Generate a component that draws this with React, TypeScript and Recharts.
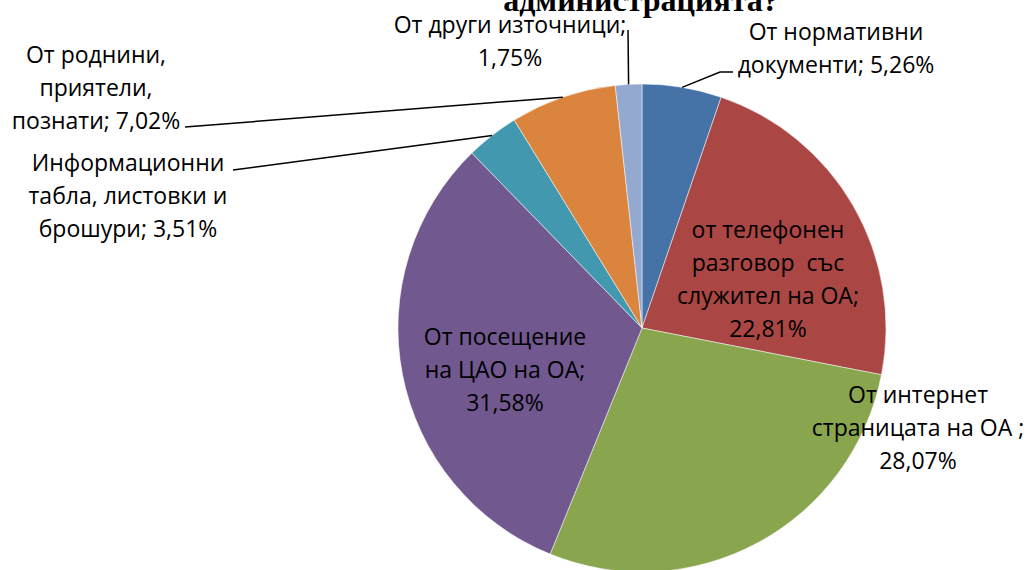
import { PieChart, Pie, Cell } from "recharts";

// slice names (text), values in % and fill colours, clockwise from 12 o'clock
const categories = [
  "От нормативни\nдокументи",
  "от телефонен\nразговор  със\nслужител на ОА",
  "От интернет\nстраницата на ОА ",
  "От посещение\nна ЦАО на ОА",
  "Информационни\nтабла, листовки и\nброшури",
  "От роднини,\nприятели,\nпознати",
  "От други източници",
];
const values = [5.26, 22.81, 28.07, 31.58, 3.51, 7.02, 1.75];
// whether the percentage goes on its own line
const valueOnNewLine = [false, true, true, true, false, false, true];
const colors = ["#4572A7", "#AA4643", "#89A54E", "#71588F", "#4198AF", "#DB843D", "#93A9CF"];

const data = categories.map((name, i) => ({ name, value: values[i] }));

const CX = 642;
const CY = 328;
const R = 244;
const FONT = "'Open Sans', 'Noto Sans', sans-serif";
const FS = 23;
const LH = 33;

// label anchors relative to pie centre (first line baseline), optional leader end
const labelLayout = [
  { dx: 194, dy: -288, leader: [[78, -256], [91, -256]] },
  { dx: 126, dy: -90 },
  { dx: 276, dy: 75 },
  { dx: -137, dy: 17 },
  { dx: -514, dy: -157, leader: [[-409, -158]] },
  { dx: -546, dy: -265, leader: [[-457, -201]] },
  { dx: -132, dy: -295, leader: [[-14, -298]] },
];

const fmt = (v: number) => v.toFixed(2).replace(".", ",") + "%";

const renderLabel = (props: any) => {
  const { cx, cy, midAngle, outerRadius, index } = props;
  const lay = labelLayout[index];
  const lines = categories[index].split("\n");
  const pct = fmt(values[index]);
  if (valueOnNewLine[index]) {
    lines[lines.length - 1] += ";";
    lines.push(pct);
  } else {
    lines[lines.length - 1] += "; " + pct;
  }
  const rad = Math.PI / 180;
  const ex = cx + outerRadius * Math.cos(-midAngle * rad);
  const ey = cy + outerRadius * Math.sin(-midAngle * rad);
  const x = cx + lay.dx;
  const y = cy + lay.dy;
  const pts = lay.leader
    ? [[ex, ey], ...lay.leader.map(([a, b]) => [cx + a, cy + b])]
    : null;
  return (
    <g key={`lbl-${index}`}>
      {pts && (
        <polyline
          points={pts.map((p) => p.join(",")).join(" ")}
          fill="none"
          stroke="#000"
          strokeWidth={1.5}
        />
      )}
      <text x={x} y={y} textAnchor="middle" fill="#000" fontFamily={FONT} fontSize={FS}>
        {lines.map((l, i) => (
          <tspan key={i} x={x} dy={i === 0 ? 0 : LH} style={{ whiteSpace: "pre" }}>
            {l}
          </tspan>
        ))}
      </text>
    </g>
  );
};

export default function App() {
  return (
    <div style={{ position: "absolute", left: 0, top: 0, width: 1029, height: 570, overflow: "hidden", background: "#fff" }}>
      <div
        style={{
          position: "absolute",
          left: 141,
          width: 1000,
          top: -20,
          textAlign: "center",
          fontFamily: "'Liberation Serif', serif",
          fontWeight: "bold",
          fontSize: 32,
          lineHeight: "40px",
          whiteSpace: "nowrap",
        }}
      >
        администрацията?
      </div>
      <PieChart
        width={1029}
        height={570}
        margin={{ top: 0, right: 0, bottom: 0, left: 0 }}
        style={{ position: "absolute", left: 0, top: 0 }}
      >
        <Pie
          data={data}
          dataKey="value"
          nameKey="name"
          cx={CX}
          cy={CY}
          outerRadius={R}
          startAngle={90}
          endAngle={-270}
          stroke="#ffffff"
          strokeWidth={0.5}
          label={renderLabel}
          labelLine={false}
          isAnimationActive={false}
        >
          {data.map((d, i) => (
            <Cell key={d.name} fill={colors[i]} />
          ))}
        </Pie>
      </PieChart>
    </div>
  );
}
